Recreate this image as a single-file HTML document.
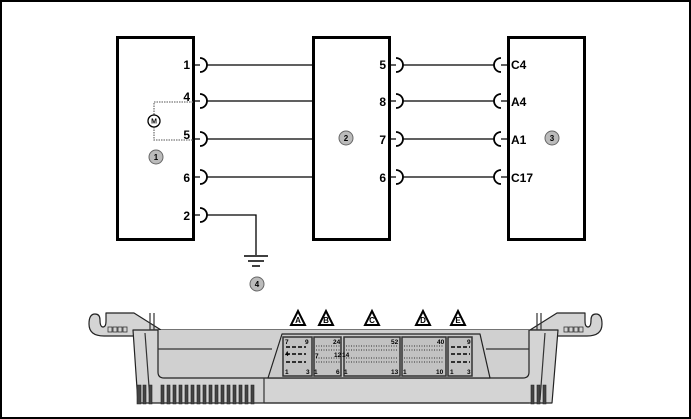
<!DOCTYPE html>
<html><head><style>html,body{margin:0;padding:0;background:#fff}svg{display:block}</style></head>
<body>
<svg width="691" height="419" viewBox="0 0 691 419" xmlns="http://www.w3.org/2000/svg" font-family="Liberation Sans, sans-serif">
<rect x="1" y="1" width="689" height="417" fill="#fff" stroke="#000" stroke-width="2"/>
<g fill="none" stroke="#000" stroke-width="3">
<rect x="117.5" y="37.5" width="76" height="202"/>
<rect x="313.5" y="37.5" width="76" height="202"/>
<rect x="508.5" y="37.5" width="76" height="202"/>
</g>
<g stroke="#000" stroke-width="1.3" fill="none">
<path d="M193 65h7M193 101h7M193 139h7M193 177h7M193 215h7"/>
<path d="M200 58a7 7 0 0 1 0 14M200 94a7 7 0 0 1 0 14M200 132a7 7 0 0 1 0 14M200 170a7 7 0 0 1 0 14M200 208a7 7 0 0 1 0 14" stroke-width="1.8"/>
<path d="M207 65H313M207 101H313M207 139H313M207 177H313"/>
<path d="M207 215H256V255"/>
<path d="M244 256h24M248 261h16M252 266h8" stroke-width="1.5"/>
<path d="M389 65h7M389 101h7M389 139h7M389 177h7"/>
<path d="M396 58a7 7 0 0 1 0 14M396 94a7 7 0 0 1 0 14M396 132a7 7 0 0 1 0 14M396 170a7 7 0 0 1 0 14" stroke-width="1.8"/>
<path d="M403 65H494M403 101H494M403 139H494M403 177H494"/>
<path d="M501 58a7 7 0 0 0 0 14M501 94a7 7 0 0 0 0 14M501 132a7 7 0 0 0 0 14M501 170a7 7 0 0 0 0 14" stroke-width="1.8"/>
<path d="M501 65h7M501 101h7M501 139h7M501 177h7"/>
<path d="M193 102H154V115M154 127V140H193" stroke="#777" stroke-dasharray="1.5 1"/>
<circle cx="154" cy="121" r="6" fill="#fff"/>
</g>
<text x="154" y="123.5" font-size="7" text-anchor="middle" font-weight="bold">M</text>
<g font-size="12" font-weight="bold" text-anchor="end">
<text x="190" y="69">1</text><text x="190" y="101">4</text><text x="190" y="139">5</text><text x="190" y="182">6</text><text x="190" y="220">2</text>
<text x="386" y="69">5</text><text x="386" y="106">8</text><text x="386" y="144">7</text><text x="386" y="182">6</text>
</g>
<g font-size="12" font-weight="bold">
<text x="511" y="69">C4</text><text x="511" y="106">A4</text><text x="511" y="144">A1</text><text x="511" y="182">C17</text>
</g>
<g fill="#bbb" stroke="#666" stroke-width="1">
<circle cx="156" cy="157" r="7"/><circle cx="346" cy="138" r="7"/><circle cx="552" cy="138" r="7"/><circle cx="257" cy="284" r="7"/>
</g>
<g font-size="8" font-weight="bold" text-anchor="middle">
<text x="156" y="160">1</text><text x="346" y="141">2</text><text x="552" y="141">3</text><text x="257" y="287">4</text>
</g>
<!-- ECU -->
<g stroke="#222" stroke-width="1.2" fill="#d4d4d4" stroke-linejoin="round">
<!-- left hook arm -->
<path d="M106 313H134L161 330H150V336H104q-15 0-15-12q0-10 6-10q5 0 5 6q0 7 3 7q3 0 3-6z"/>
<!-- right hook arm -->
<path d="M585 313H557L530 330H541V336H587q15 0 15-12q0-10-6-10q-5 0-5 6q0 7-3 7q-3 0-3-6z"/>
<!-- main body -->
<path d="M133 330H558L552 403H138z"/>
<path d="M158 330V372q0 6 6 6H523q6 0 6-6V330" fill="#d0d0d0"/>
<path d="M282 334H480L490 378H268z" fill="#cacaca"/>
</g>
<g stroke="#333" stroke-width="1.2" fill="none">
<path d="M150 313V330M154 313V330M537 313V330M541 313V330"/>
<path d="M158 349H272M486 349H529"/>
<path d="M264 403H529M264 378V403"/>
<path d="M145 333L150 400M545 333L540 400"/>
</g>
<g fill="none" stroke="#333" stroke-width="0.8">
<rect x="108" y="327" width="4" height="5"/><rect x="113" y="327" width="4" height="5"/><rect x="118" y="327" width="4" height="5"/><rect x="123" y="327" width="4" height="5"/>
<rect x="564" y="327" width="4" height="5"/><rect x="569" y="327" width="4" height="5"/><rect x="574" y="327" width="4" height="5"/><rect x="579" y="327" width="4" height="5"/>
</g>
<g fill="#c2c2c2" stroke="#333" stroke-width="1.5">
<rect x="283" y="337" width="29" height="39"/><rect x="314" y="337" width="27" height="39"/><rect x="344" y="337" width="56" height="39"/><rect x="402" y="337" width="44" height="39"/><rect x="448" y="337" width="24" height="39"/>
</g>
<g stroke="#000" stroke-width="1.6" stroke-dasharray="4 2">
<path d="M286 347h20M286 354h20M286 362h20M451 347h19M451 354h19M451 362h19"/>
</g>
<g stroke="#333" stroke-width="1" stroke-dasharray="1 1.5">
<path d="M316 346h24M316 350h24M316 358h24M316 362h24M346 346h52M346 350h52M346 358h52M346 362h52M404 346h40M404 350h40M404 358h40M404 362h40"/>
</g>
<g font-size="6.5" font-weight="bold">
<text x="285" y="344">7</text><text x="305" y="344">9</text><text x="285" y="356">4</text><text x="285" y="374">1</text><text x="306" y="374">3</text>
<text x="333" y="344">24</text><text x="315" y="358">7</text><text x="334" y="357">12</text><text x="314" y="374">1</text><text x="336" y="374">6</text>
<text x="391" y="344">52</text><text x="342" y="357">14</text><text x="344" y="374">1</text><text x="391" y="374">13</text>
<text x="437" y="344">40</text><text x="403" y="374">1</text><text x="436" y="374">10</text>
<text x="467" y="344">9</text><text x="450" y="374">1</text><text x="467" y="374">3</text>
</g>
<g fill="#444" stroke="#222" stroke-width="0.6">
<path d="M137 385h4v19h-4zM143 385h3v19h-3zM149 385h3v19h-3zM161 385h3v19h-3zM167 385h3v19h-3zM173 385h3v19h-3zM179 385h3v19h-3zM185 385h3v19h-3zM191 385h3v19h-3zM197 385h3v19h-3zM203 385h3v19h-3zM209 385h3v19h-3zM215 385h3v19h-3zM221 385h3v19h-3zM227 385h3v19h-3zM233 385h3v19h-3zM239 385h3v19h-3zM245 385h3v19h-3zM251 385h3v19h-3zM531 385h3v19h-3zM537 385h3v19h-3zM543 385h3v19h-3z"/>
</g>
<g fill="#fff" stroke="#000" stroke-width="2">
<path d="M298 311L291 325H305z"/><path d="M326 311L319 325H333z"/><path d="M372 311L365 325H379z"/><path d="M423 311L416 325H430z"/><path d="M458 311L451 325H465z"/>
</g>
<g font-size="8" font-weight="bold" text-anchor="middle">
<text x="298" y="323">A</text><text x="326" y="323">B</text><text x="372" y="323">C</text><text x="423" y="323">D</text><text x="458" y="323">E</text>
</g>
</svg>
</body></html>
